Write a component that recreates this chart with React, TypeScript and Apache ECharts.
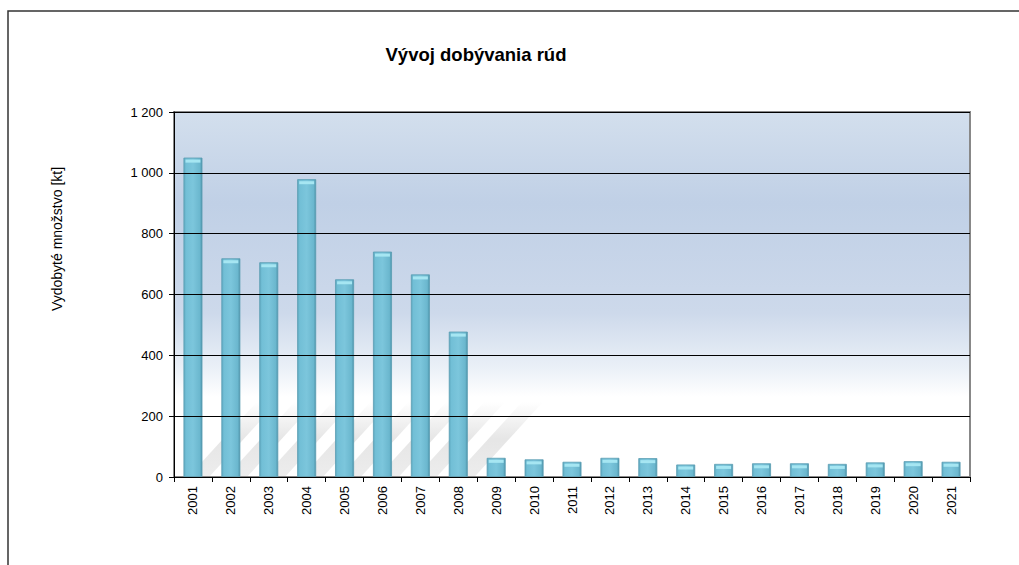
import React, { useEffect, useRef } from "react";
import * as echarts from "echarts";

const categories = ["2001","2002","2003","2004","2005","2006","2007","2008","2009","2010","2011","2012","2013","2014","2015","2016","2017","2018","2019","2020","2021"];
const values = [1050, 719, 706, 979, 650, 741, 666, 478, 63, 58, 50, 63, 62, 41, 43, 45, 45, 43, 48, 52, 50];
const yTicks = { min: 0, max: 1200, interval: 200 };
const titleText = "Vývoj dobývania rúd";
const yName = "Vydobyté množstvo [kt]";

const FONT = "'Liberation Sans', Arial, sans-serif";

export default function App() {
  const ref = useRef<HTMLDivElement>(null);
  useEffect(() => {
    if (!ref.current) return;
    const chart = echarts.init(ref.current, undefined, { renderer: "svg" });
    chart.setOption({
      animation: false,
      textStyle: { fontFamily: FONT },
      title: {
        text: titleText,
        left: 471,
        top: 40,
        textAlign: "center",
        textStyle: { fontFamily: FONT, fontSize: 18.5, fontWeight: "bold", color: "#000" },
      },
      graphic: [
        {
          type: "rect",
          shape: { x: 8, y: 11, width: 1100, height: 700 },
          style: { fill: "none", stroke: "#333", lineWidth: 1.5 },
          silent: true,
          z: -10,
        },
        {
          type: "text",
          x: 57,
          y: 239,
          rotation: Math.PI / 2,
          style: {
            text: yName,
            fontFamily: FONT,
            fontSize: 14,
            fill: "#000",
            align: "center",
            verticalAlign: "middle",
          },
        },
      ],
      grid: {
        left: 174,
        right: 1019 - 970,
        top: 112,
        bottom: 565 - 477,
        show: true,
        borderWidth: 2,
        borderColor: "#888",
        backgroundColor: new echarts.graphic.LinearGradient(0, 0, 0, 1, [
          { offset: 0, color: "#d3dfed" },
          { offset: 0.25, color: "#c0d0e6" },
          { offset: 0.55, color: "#cdd9eb" },
          { offset: 0.7, color: "#eaf0f7" },
          { offset: 0.78, color: "#ffffff" },
          { offset: 1, color: "#ffffff" },
        ]),
      },
      xAxis: {
        type: "category",
        data: categories,
        boundaryGap: true,
        axisLine: { lineStyle: { color: "#000", width: 1 } },
        axisTick: { show: true, length: 5, alignWithLabel: false, lineStyle: { color: "#000" } },
        axisLabel: { rotate: 90, fontSize: 13, color: "#000", margin: 9, fontFamily: FONT },
        splitLine: { show: false },
        z: 5,
      },
      yAxis: {
        type: "value",
        min: yTicks.min,
        max: yTicks.max,
        interval: yTicks.interval,
        axisLine: { show: true, lineStyle: { color: "#000", width: 1 } },
        axisTick: { show: true, length: 5, lineStyle: { color: "#000" } },
        axisLabel: {
          fontSize: 13,
          color: "#000",
          margin: 11,
          fontFamily: FONT,
          formatter: (v: number) => String(v).replace(/\B(?=(\d{3})+(?!\d))/g, " "),
        },
        splitLine: { show: true, lineStyle: { color: "#000", width: 1 } },
        z: 5,
      },
      series: [
        {
          type: "custom",
          z: 1,
          silent: true,
          data: values.map((v, i) => [i, v]),
          renderItem: (params: any, api: any) => {
            const i = api.value(0);
            const v = api.value(1);
            if (v < 200) return null;
            const base = api.coord([i, 0]);
            const w = api.size([1, 0])[0];
            const x0 = base[0] - w * 0.1;
            const h = 75;
            return {
              type: "polygon",
              shape: {
                points: [
                  [x0, base[1] - 1],
                  [x0 + w * 0.55, base[1] - 1],
                  [x0 + w * 0.55 + h * 0.9, base[1] - h],
                  [x0 + h * 0.9, base[1] - h],
                ],
              },
              style: {
                fill: new echarts.graphic.LinearGradient(0, 1, 0, 0, [
                  { offset: 0, color: "rgba(140,140,140,0.16)" },
                  { offset: 0.5, color: "rgba(140,140,140,0.22)" },
                  { offset: 1, color: "rgba(140,140,140,0)" },
                ]),
              },
            };
          },
        },
        {
          type: "bar",
          data: values,
          barWidth: "50%",
          z: 3,
          itemStyle: {
            color: new echarts.graphic.LinearGradient(0, 0, 1, 0, [
              { offset: 0, color: "#5ea9c0" },
              { offset: 0.12, color: "#72bfd6" },
              { offset: 0.5, color: "#7cc6dc" },
              { offset: 0.88, color: "#6bb7ce" },
              { offset: 1, color: "#4e95ab" },
            ]),
            borderColor: "#5a9db2",
            borderWidth: 0.8,
          },
        },
        {
          type: "custom",
          z: 4,
          silent: true,
          data: values.map((v, i) => [i, v]),
          renderItem: (params: any, api: any) => {
            const i = api.value(0);
            const v = api.value(1);
            const top = api.coord([i, v]);
            const w = api.size([1, 0])[0] * 0.5;
            return {
              type: "rect",
              shape: { x: top[0] - w / 2 + 2, y: top[1] + 2, width: w - 4, height: 3 },
              style: { fill: "#a6e6f2" },
            };
          },
        },
      ],
    });
    return () => chart.dispose();
  }, []);
  return <div ref={ref} style={{ width: 1019, height: 565, position: "absolute", left: 0, top: 0, background: "#fff" }} />;
}
